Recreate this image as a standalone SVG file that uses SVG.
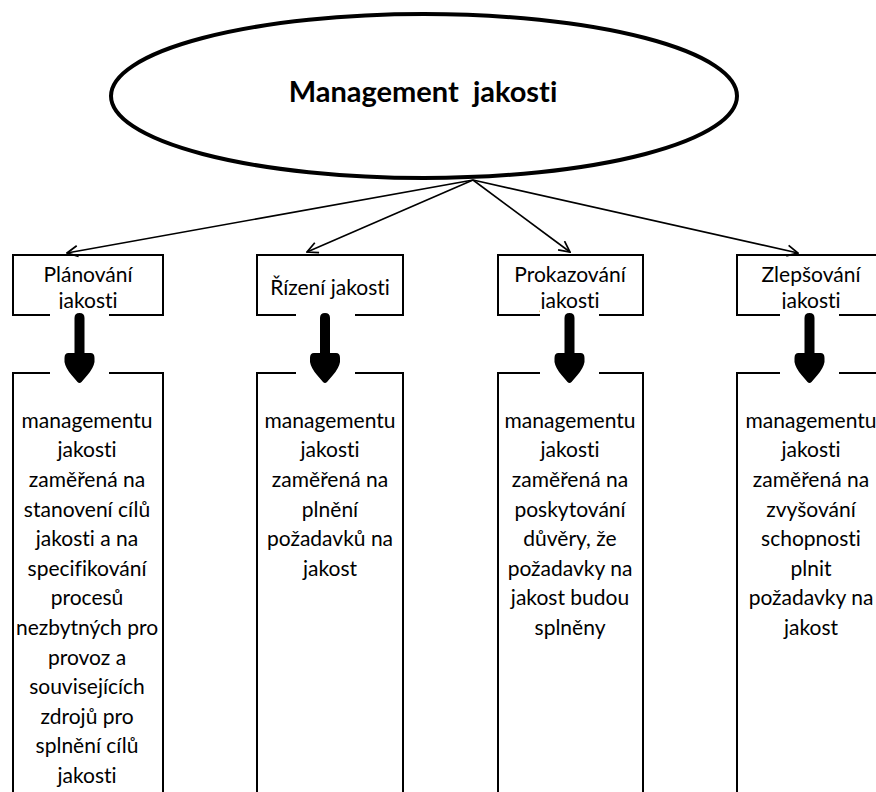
<svg xmlns="http://www.w3.org/2000/svg" width="876" height="792" viewBox="0 0 876 792">
<defs>
<style>
.box{fill:#fff;stroke:#000;stroke-width:2}
.t{font-family:Lato,"Open Sans","Liberation Sans",sans-serif;font-size:21px;fill:#000;text-anchor:middle;font-variant-ligatures:none;font-feature-settings:"liga" 0,"clig" 0}
.title{font-family:Lato,"Open Sans","Liberation Sans",sans-serif;font-size:29px;font-weight:bold;fill:#000;text-anchor:middle;white-space:pre;font-variant-ligatures:none;font-feature-settings:"liga" 0,"clig" 0}
.thin{stroke:#000;stroke-width:1.6;fill:none}
.cover{fill:#fff}
.big{fill:#000}
</style>
<marker id="v" viewBox="0 0 12 12" refX="11" refY="6" markerWidth="13" markerHeight="13" markerUnits="userSpaceOnUse" orient="auto">
<path d="M1,1 L11,6 L1,11" fill="none" stroke="#000" stroke-width="1.6"/>
</marker>
</defs>
<rect width="876" height="792" fill="#fff"/>
<g id="root">
<ellipse cx="424" cy="96" rx="313" ry="82" fill="#fff" stroke="#000" stroke-width="4"/>
<text class="title" x="423" y="102" xml:space="preserve">Management  jakosti</text>
</g>
<g id="n1">
<rect class="box" x="13" y="255" width="150" height="60"/>
<text class="t" x="88" y="282">Plánování</text>
<text class="t" x="88" y="307.5">jakosti</text>
</g>
<g id="n2">
<rect class="box" x="257" y="255" width="146" height="60"/>
<text class="t" x="330" y="295">Řízení jakosti</text>
</g>
<g id="n3">
<rect class="box" x="498" y="255" width="145" height="60"/>
<text class="t" x="570" y="282">Prokazování</text>
<text class="t" x="570" y="307.5">jakosti</text>
</g>
<g id="n4">
<rect class="box" x="737" y="255" width="150" height="60"/>
<text class="t" x="811" y="282">Zlepšování</text>
<text class="t" x="811" y="307.5">jakosti</text>
</g>
<g id="d1">
<rect class="box" x="13" y="373" width="150" height="440"/>
<text class="t" x="87" y="427.7">managementu</text>
<text class="t" x="87" y="457.3">jakosti</text>
<text class="t" x="87" y="486.9">zaměřená na</text>
<text class="t" x="87" y="516.5">stanovení cílů</text>
<text class="t" x="87" y="546.1">jakosti a na</text>
<text class="t" x="87" y="575.7">specifikování</text>
<text class="t" x="87" y="605.3">procesů</text>
<text class="t" x="87" y="634.9">nezbytných pro</text>
<text class="t" x="87" y="664.5">provoz a</text>
<text class="t" x="87" y="694.1">souvisejících</text>
<text class="t" x="87" y="723.7">zdrojů pro</text>
<text class="t" x="87" y="753.3">splnění cílů</text>
<text class="t" x="87" y="782.9">jakosti</text>
</g>
<g id="d2">
<rect class="box" x="257" y="373" width="146" height="440"/>
<text class="t" x="330" y="427.7">managementu</text>
<text class="t" x="330" y="457.3">jakosti</text>
<text class="t" x="330" y="486.9">zaměřená na</text>
<text class="t" x="330" y="516.5">plnění</text>
<text class="t" x="330" y="546.1">požadavků na</text>
<text class="t" x="330" y="575.7">jakost</text>
</g>
<g id="d3">
<rect class="box" x="498" y="373" width="145" height="440"/>
<text class="t" x="570" y="427.7">managementu</text>
<text class="t" x="570" y="457.3">jakosti</text>
<text class="t" x="570" y="486.9">zaměřená na</text>
<text class="t" x="570" y="516.5">poskytování</text>
<text class="t" x="570" y="546.1">důvěry, že</text>
<text class="t" x="570" y="575.7">požadavky na</text>
<text class="t" x="570" y="605.3">jakost budou</text>
<text class="t" x="570" y="634.9">splněny</text>
</g>
<g id="d4">
<rect class="box" x="737" y="373" width="150" height="440"/>
<text class="t" x="811" y="427.7">managementu</text>
<text class="t" x="811" y="457.3">jakosti</text>
<text class="t" x="811" y="486.9">zaměřená na</text>
<text class="t" x="811" y="516.5">zvyšování</text>
<text class="t" x="811" y="546.1">schopnosti</text>
<text class="t" x="811" y="575.7">plnit</text>
<text class="t" x="811" y="605.3">požadavky na</text>
<text class="t" x="811" y="634.9">jakost</text>
</g>
<g id="connectors">
<line class="thin" x1="473" y1="180" x2="67" y2="253" marker-end="url(#v)"/>
<line class="thin" x1="473" y1="180" x2="307" y2="252" marker-end="url(#v)"/>
<line class="thin" x1="473" y1="180" x2="570" y2="252" marker-end="url(#v)"/>
<line class="thin" x1="473" y1="180" x2="798" y2="253" marker-end="url(#v)"/>
<rect class="cover" x="50" y="309" width="59" height="75"/>
<rect class="cover" x="296" y="309" width="59" height="75"/>
<rect class="cover" x="540" y="309" width="59" height="75"/>
<rect class="cover" x="780" y="309" width="59" height="75"/>
<path id="ba1" class="big" transform="translate(79.5,0)" d="M-5,318 Q-5,313 0,313 Q5,313 5,318 L5,353 L11,353 Q15,353 15,358 L15,362 Q14,368 8,375 L2,382 Q0,384 -2,382 L-8,375 Q-14,368 -15,362 L-15,358 Q-15,353 -11,353 L-5,353 Z"/>
<use href="#ba1" transform="translate(245.5,0)"/>
<use href="#ba1" transform="translate(490,0)"/>
<use href="#ba1" transform="translate(730,0)"/>
</g>
</svg>
